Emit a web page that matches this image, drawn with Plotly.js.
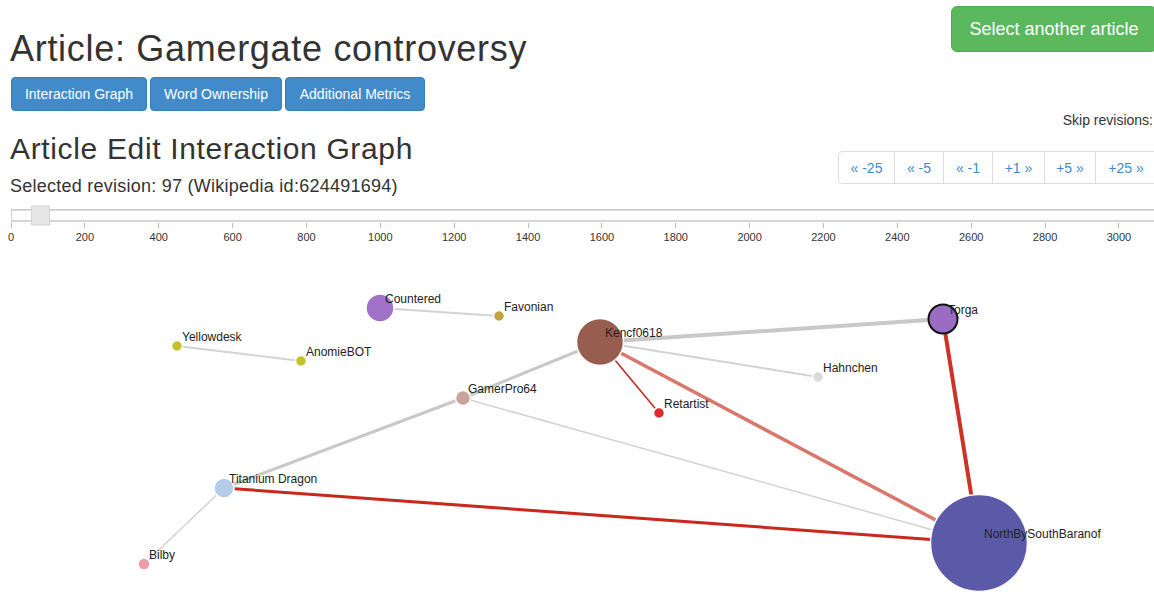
<!DOCTYPE html>
<html><head><meta charset="utf-8">
<script src="https://cdn.plot.ly/plotly-3.0.1.min.js"></script>
<style>
body{margin:0;width:1154px;height:592px;overflow:hidden;background:#fff;font-family:"Liberation Sans",Arial,Helvetica,sans-serif;color:#333;position:relative}
.abs{position:absolute;white-space:nowrap}
.btn{position:absolute;box-sizing:border-box;display:flex;align-items:center;justify-content:center;border-radius:4px;font-size:14px;color:#fff;background:#428bca;border:1px solid #357ebd;white-space:nowrap}
.pg{position:absolute;top:151px;height:33px;box-sizing:border-box;border:1px solid #ddd;background:#fff;color:#428bca;font-size:14px;display:flex;align-items:center;justify-content:center;white-space:nowrap}
#slider{position:absolute;left:0;top:196px;width:1154px;height:50px}
#graph{position:absolute;left:0;top:250px;width:1154px;height:342px}
</style></head>
<body>
<div class="abs" style="left:10px;top:31px;font-size:36px;line-height:36px;letter-spacing:0.7px;">Article: Gamergate controversy</div>
<div class="btn" style="left:11px;top:77px;width:136px;height:34px;">Interaction Graph</div>
<div class="btn" style="left:150px;top:77px;width:132px;height:34px;">Word Ownership</div>
<div class="btn" style="left:285px;top:77px;width:140px;height:34px;">Additional Metrics</div>
<div class="btn" style="left:951px;top:6px;width:206px;height:46px;font-size:18px;background:#5cb85c;border-color:#4cae4c;border-radius:6px;">Select another article</div>
<div class="abs" style="right:1px;top:113px;font-size:14px;line-height:14px;">Skip revisions:</div>
<div class="abs" style="left:10px;top:134px;font-size:30px;line-height:30px;letter-spacing:0.65px;">Article Edit Interaction Graph</div>
<div class="abs" style="left:10px;top:177px;font-size:18px;line-height:18px;letter-spacing:0.25px;">Selected revision: 97 (Wikipedia id:624491694)</div>
<div class="pg" style="left:838px;width:57px;border-radius:4px 0 0 4px;">« -25</div>
<div class="pg" style="left:894px;width:50px;">« -5</div>
<div class="pg" style="left:943px;width:50px;">« -1</div>
<div class="pg" style="left:992px;width:53px;">+1 »</div>
<div class="pg" style="left:1044px;width:52px;">+5 »</div>
<div class="pg" style="left:1095px;width:62px;">+25 »</div>
<div id="slider"></div>
<div id="graph"></div>
<script>
// ---- data ----
const sliderMax = 3095;
const handleValue = 80;
const sliderTickStep = 200;

const users = ["Countered","Favonian","Yellowdesk","AnomieBOT","Kencf0618","Torga","Hahnchen","GamerPro64","Retartist","Titanium Dragon","Bilby","NorthBySouthBaranof"];
const nodeX = [380, 499, 177, 301, 600, 943, 818, 463, 659, 224, 144, 979];
const nodeY = [308, 316, 346, 361, 342, 319, 377, 398, 413, 488, 564, 543];
const nodeWeight = [28, 11, 11, 11, 47, 29, 11, 15, 11, 20, 12, 97];
const nodeColors = ["#a073c8","#c2a43e","#c2c22a","#c2c22a","#975e50","#9b6cc4","#dadada","#caa39a","#dc2c2e","#b4cbea","#eb9ea4","#5a5aa9"];
const selectedUser = "Torga";

const edgeSource = ["Countered","Yellowdesk","Kencf0618","Kencf0618","Kencf0618","GamerPro64","GamerPro64","Titanium Dragon","Kencf0618","Kencf0618","Torga","Titanium Dragon"];
const edgeTarget = ["Favonian","AnomieBOT","Torga","Hahnchen","GamerPro64","Titanium Dragon","NorthBySouthBaranof","Bilby","Retartist","NorthBySouthBaranof","NorthBySouthBaranof","NorthBySouthBaranof"];
const edgeWeight = [2, 2, 4, 2, 3, 3, 1.5, 1.5, 1.5, 3.5, 4, 3];
const edgeColors = ["#d3d3d3","#d3d3d3","#c8c8c8","#d3d3d3","#c8c8c8","#c8c8c8","#d3d3d3","#d3d3d3","#c0261c","#d9776c","#cc3325","#c9281c"];

const FONT = '"Liberation Sans", Arial, Helvetica, sans-serif';

// ---- slider ----
Plotly.newPlot('slider', [{type:'scatter', x:[], y:[], hoverinfo:'skip'}], {
  width:1154, height:50, margin:{l:11, r:0, t:9, b:24},
  paper_bgcolor:'rgba(0,0,0,0)', plot_bgcolor:'rgba(0,0,0,0)', showlegend:false,
  xaxis:{range:[0, sliderMax], tick0:0, dtick:sliderTickStep, ticks:'outside', ticklen:5, tickcolor:'#bbb', tickwidth:1,
         showgrid:false, zeroline:false, showline:false, tickfont:{size:11, color:'#333', family:FONT}, fixedrange:true},
  yaxis:{range:[0,1], visible:false, fixedrange:true},
  shapes:[
    {type:'rect', xref:'x', yref:'paper', x0:0, x1:sliderMax*1.02, y0:0.06, y1:0.71, fillcolor:'#ffffff', line:{color:'#aaaaaa', width:1}},
    {type:'rect', xref:'x', yref:'paper', xsizemode:'pixel', xanchor:handleValue, x0:-9, x1:9, y0:-0.18, y1:0.94, fillcolor:'#e6e6e6', line:{color:'#d3d3d3', width:1}}
  ]
}, {staticPlot:true});

// ---- interaction graph ----
const idx = {};
users.forEach((u,i)=>{idx[u]=i;});
const traces = [];
for (let k=0; k<edgeSource.length; k++){
  const a = idx[edgeSource[k]], b = idx[edgeTarget[k]];
  traces.push({type:'scatter', mode:'lines', x:[nodeX[a], nodeX[b]], y:[nodeY[a], nodeY[b]],
    line:{color:edgeColors[k], width:edgeWeight[k]}, hoverinfo:'skip', cliponaxis:false});
}
traces.push({type:'scatter', mode:'markers', x:nodeX, y:nodeY, text:users, hoverinfo:'text', cliponaxis:false,
  marker:{size:nodeWeight, color:nodeColors, opacity:1,
    line:{color:users.map(u=>u===selectedUser?'#111':'#fff'), width:users.map(u=>u===selectedUser?2:1.5)}}});

const annotations = users.map((u,i)=>({x:nodeX[i], y:nodeY[i], xref:'x', yref:'y', text:u, showarrow:false,
  xanchor:'left', yanchor:'middle', xshift:3, yshift:9.5, font:{size:12, color:'#222', family:FONT}}));

Plotly.newPlot('graph', traces, {
  width:1154, height:342, margin:{l:0, r:0, t:0, b:0},
  paper_bgcolor:'rgba(0,0,0,0)', plot_bgcolor:'rgba(0,0,0,0)', showlegend:false,
  xaxis:{range:[0,1154], visible:false, fixedrange:true},
  yaxis:{range:[592,250], visible:false, fixedrange:true},
  annotations:annotations
}, {staticPlot:true});
</script>
</body></html>
